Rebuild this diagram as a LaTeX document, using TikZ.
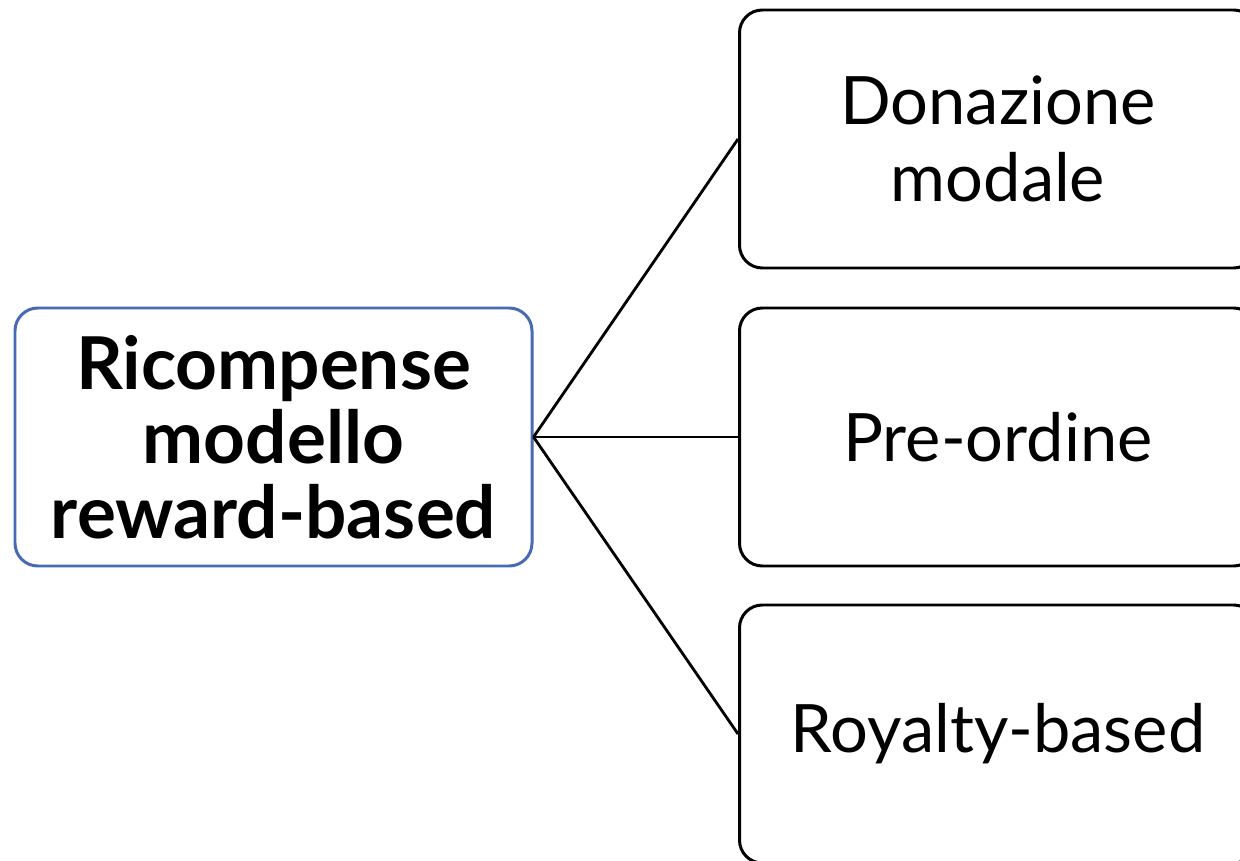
\documentclass[tikz,border=0pt]{standalone}
\usepackage{fontspec}
\setmainfont{Lato}
\definecolor{mainblue}{RGB}{72,106,180}
\begin{document}
\begin{tikzpicture}[x=0.02cm,y=-0.02cm,
  box/.style={draw=black,line width=1.7pt,rounded corners=13pt,fill=white,
    minimum width=517*0.02cm,minimum height=258*0.02cm,align=center,
    inner sep=0pt,font=\fontsize{38}{44}\selectfont},
  mainbox/.style={box,draw=mainblue,font=\fontsize{41.5}{42.5}\selectfont\bfseries},
  link/.style={line width=1.6pt,draw=black}]
\useasboundingbox (0,0) rectangle (1240,861);
\clip (0,0) rectangle (1240,861);
\node[mainbox] (root) at (273.5,437) {Ricompense\\modello\\reward-based};
\node[box] (b1) at (998,139) {Donazione\\modale};
\node[box] (b2) at (998,437) {Pre-ordine};
\node[box] (b3) at (998,734) {Royalty-based};
\draw[link] (root.east) -- (b1.west);
\draw[link] (root.east) -- (b2.west);
\draw[link] (root.east) -- (b3.west);
\end{tikzpicture}
\end{document}
